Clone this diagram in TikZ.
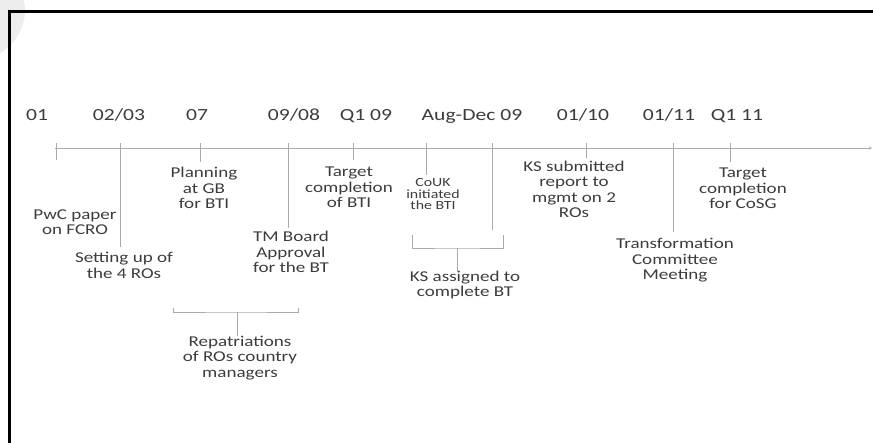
\documentclass[tikz,border=0pt]{standalone}
\usepackage{fontspec}
\setmainfont{Carlito}[FakeStretch=1.27]
\usetikzlibrary{arrows.meta}
\definecolor{linegray}{HTML}{ABABAB}
\definecolor{textgray}{HTML}{3C3C3C}
\definecolor{haze}{HTML}{EDEDED}
\begin{document}
\begin{tikzpicture}[x=1pt,y=-1pt,
  axisline/.style={draw=linegray, line width=0.9pt},
  tickline/.style={draw=linegray, line width=0.9pt},
  datelabel/.style={font=\fontsize{17}{20}\selectfont, text=textgray, inner sep=0pt, anchor=base},
  eventlabel/.style={font=\fontsize{15}{15.5}\selectfont, text=textgray, align=center, inner sep=0pt},
  smalllabel/.style={font=\fontsize{12.5}{11.2}\selectfont, text=textgray, align=center, inner sep=0pt}]
\useasboundingbox (0,0) rectangle (873,443);

% faint disc in the corner
\begin{scope}
  \clip (0,0) rectangle (873,443);
  \fill[haze] (-25,10) circle (50);
\end{scope}

% frame
\draw[line width=2.5pt] (9.5,450) -- (9.5,11.5) -- (880,11.5);

% time axis
\coordinate (axL) at (55,148);
\coordinate (axR) at (872,148);
\draw[axisline, -{Stealth[length=3pt,width=3pt]}] (axL) -- (axR);

% dates
\node[datelabel] (d1) at (37,121) {01};
\node[datelabel] (d2) at (119,121) {02/03};
\node[datelabel] (d3) at (197,121) {07};
\node[datelabel] (d4) at (294,121) {09/08};
\node[datelabel] (d5) at (366,121) {Q1 09};
\node[datelabel] (d6) at (472,121) {Aug-Dec 09};
\node[datelabel] (d7) at (583,121) {01/10};
\node[datelabel] (d8) at (669,121) {01/11};
\node[datelabel] (d9) at (737,121) {Q1 11};

% events
\node[eventlabel] (pwc) at (75,222) {PwC paper\\on FCRO};
\node[eventlabel] (setup) at (124,265.5) {Setting up of\\the 4 ROs};
\node[eventlabel] (plan) at (204,188) {Planning\\at GB\\for BTI};
\node[eventlabel] (tmb) at (291,252) {TM Board\\Approval\\for the BT};
\node[eventlabel] (tbti) at (349,187.5) {Target\\completion\\of BTI};
\node[smalllabel] (couk) at (433,194) {CoUK\\initiated\\the BTI};
\node[eventlabel] (ksa) at (465,285) {KS assigned to\\complete BT};
\node[eventlabel] (kss) at (574,189.5) {KS submitted\\report to\\mgmt on 2\\ROs};
\node[eventlabel] (tcm) at (675,260.5) {Transformation\\Committee\\Meeting};
\node[eventlabel] (tcosg) at (743,188.5) {Target\\completion\\for CoSG};
\node[eventlabel] (rep) at (240,358) {Repatriations\\of ROs country\\managers};

% tick marks
\foreach \x/\yb [count=\i] in {56/160,120/247,200/162,288/228,353/160,426/175,492/230,586/158,673/232,730/162}{
  \coordinate (tt\i) at (\x,143);
  \coordinate (tb\i) at (\x,\yb);
  \draw[tickline] (tt\i) -- (tb\i);
}

% bracket: KS assignment period
\coordinate (kbl) at (412,235);
\coordinate (kbr) at (503,235);
\coordinate (kbc) at (457,248);
\draw[tickline] (kbl) |- (kbc) -| (kbr);
\draw[tickline] (kbc) -- (ksa.north -| kbc);

% bracket: repatriations period
\coordinate (rbl) at (173,308);
\coordinate (rbr) at (298,308);
\coordinate (rbc) at (237,312);
\draw[tickline] (rbl) |- (rbc) -| (rbr);
\draw[tickline] (rbc) -- (rep.north -| rbc);
\end{tikzpicture}
\end{document}
